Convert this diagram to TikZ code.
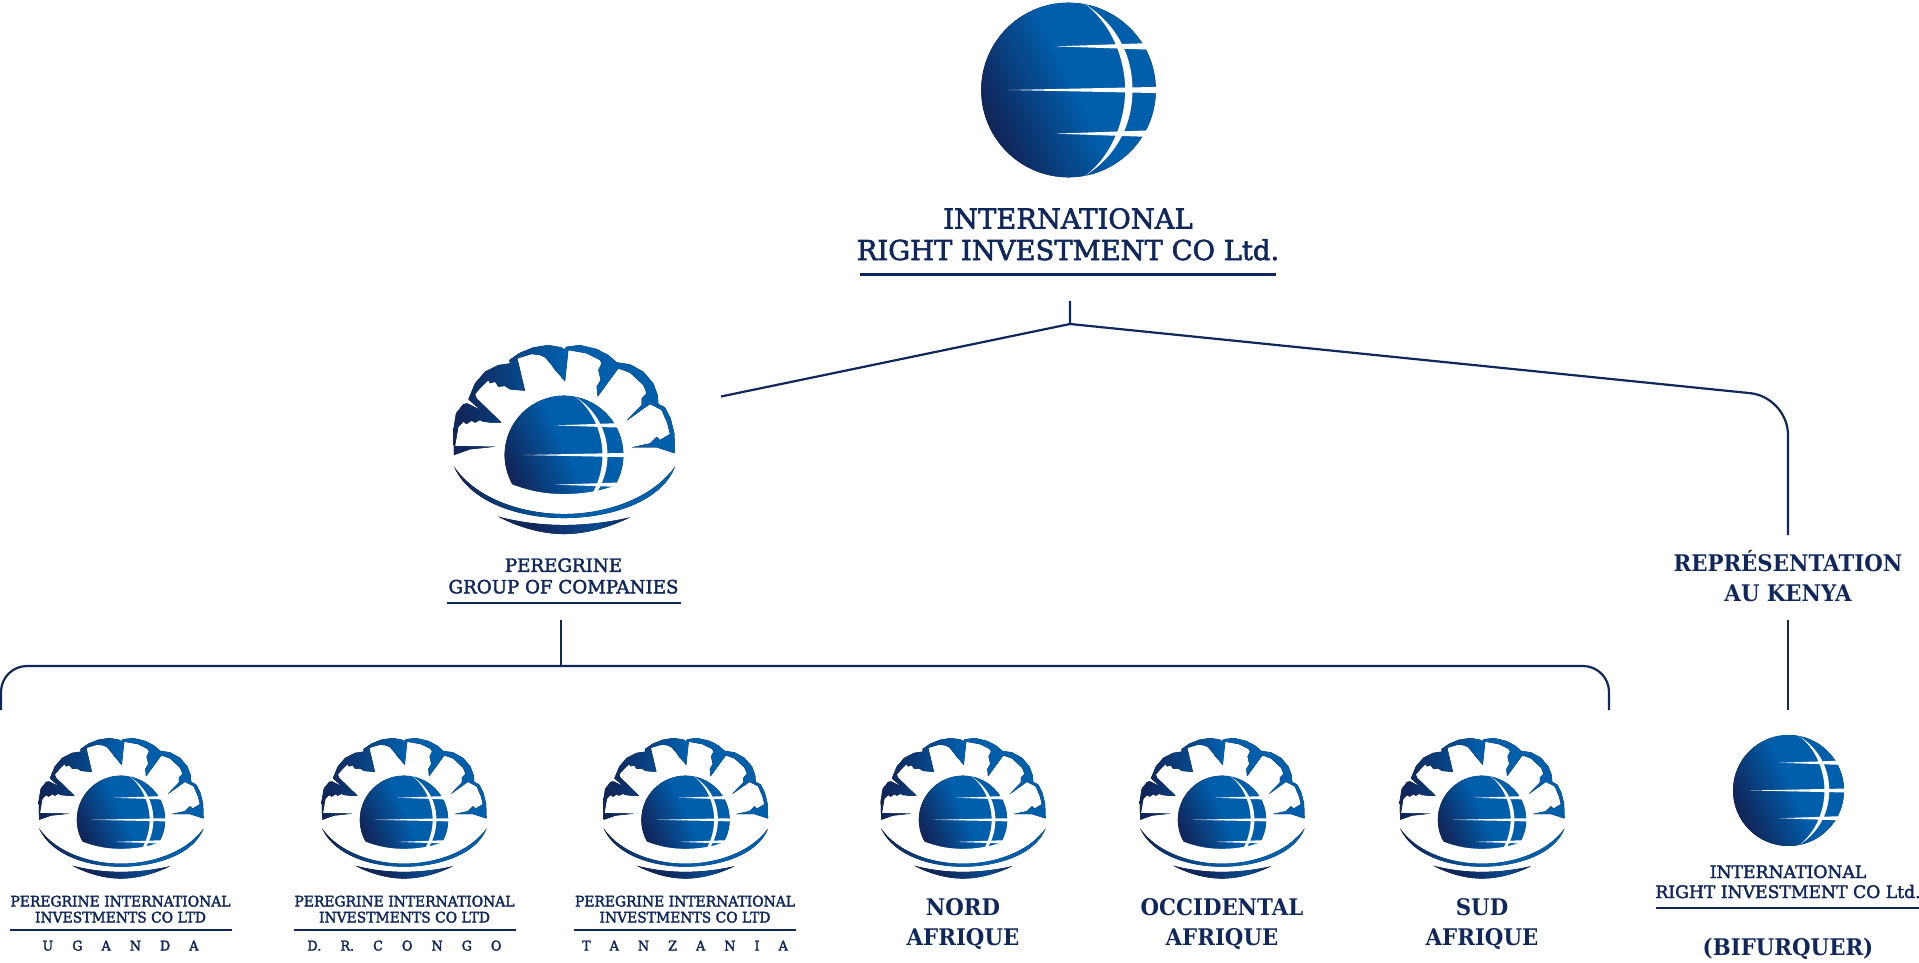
\documentclass[tikz,border=0pt]{standalone}
\usepackage{fontspec}
\setmainfont{DejaVu Serif}[UprightFeatures={FakeBold=2.2}, BoldFeatures={FakeStretch=0.93}]
\definecolor{marine}{HTML}{10275C}
\definecolor{bleuglobe}{HTML}{005EAB}
\definecolor{bleumoyen}{HTML}{0A4A8F}
\pgfdeclarehorizontalshading{globeshade}{100bp}{color(0bp)=(marine); color(27bp)=(marine); color(52bp)=(bleuglobe); color(100bp)=(bleuglobe)}
\pgfdeclarehorizontalshading{rimshade}{100bp}{color(0bp)=(marine); color(27bp)=(marine); color(50bp)=(bleuglobe); color(100bp)=(bleuglobe)}
\pgfdeclarehorizontalshading{basshade}{100bp}{color(0bp)=(marine); color(40bp)=(marine); color(62bp)=(bleumoyen); color(75bp)=(marine); color(100bp)=(marine)}
\newcommand{\paysfont}{\addfontfeature{FakeStretch=0.95}\fontsize{13.5}{13.5}\selectfont\spaceskip 19pt\relax}
\newcommand{\dessinglobe}{
    \fill[shading=globeshade, shading angle=25] (0,0) circle (1);
    % bande blanche
    \fill[white] (.088,-1.05) .. controls (.45,-.85) and (.649,-.4) .. (.649,0) .. controls (.649,.4) and (.45,.85) .. (.088,1.05) -- (.2,1.05) -- (.2,.977) .. controls (.55,.75) and (.733,.4) .. (.733,0) .. controls (.733,-.4) and (.55,-.75) .. (.2,-.977) -- (.2,-1.05) -- cycle;
    % traits effiles
    \fill[white] (-.687,0) -- (1.05,-.036) -- (1.05,.036) -- cycle;
    \fill[white] (-.15,-.5) -- (1,-.54) -- (1,-.46) -- cycle;
    \fill[white] (-.15,.5) -- (1,.46) -- (1,.54) -- cycle;
}
\tikzset{
  lien/.style={draw=marine, line width=2.2pt},
  filet/.style={draw=marine, line width=2.4pt},
  texte/.style={text=marine, align=center, inner sep=0pt, anchor=base},
  grand/.style={texte, font=\fontsize{27.4}{31.5}\selectfont},
  moyen/.style={texte, font=\fontsize{18.2}{21.5}\selectfont},
  petit/.style={texte, font=\addfontfeature{FakeStretch=0.95}\fontsize{14.6}{16}\selectfont},
  pays/.style={texte, font=\paysfont},
  gras/.style={texte, font=\fontsize{22.9}{30}\selectfont\bfseries},
  globe/.pic={\dessinglobe},
  logo/.pic={
    \begin{scope}[shift={(0,25)}, scale=178]
    \dessinglobe
    \end{scope}
    \fill[white] (-185,100) -- (-159,112) .. controls (-100,135) and (-50,142) .. (-2,142) .. controls (50,142) and (110,135) .. (165,112) -- (185,100) -- (185,210) -- (-185,210) -- cycle;
    % couronne
    \fill[shading=rimshade, rounded corners=.4pt] (-330,25) -- (-332,-50) -- (-324,-100) -- (-302,-128) -- (-290,-130) -- (-250,-110) -- (-287,-142) -- (-267,-190) -- (-237,-225) -- (-197,-245) -- (-162,-250) -- (-164,-260) -- (-132,-282) -- (-92,-298) -- (-47,-305) -- (-7,-298) -- (0,-292) -- (8,-300) -- (48,-305) -- (98,-293) -- (133,-275) -- (158,-253) -- (198,-247) -- (238,-225) -- (268,-190) -- (281,-155) -- (283,-128) -- (303,-118) -- (320,-85) -- (331,-40) -- (333,20)
      -- (278,2) -- (203,2) -- (258,-10) -- (278,-30) -- (288,-20) -- (318,-38) -- (310,-70) -- (293,-110) -- (258,-128) -- (188,-78) -- (208,-100) -- (233,-125) -- (233,-145) -- (248,-160) -- (238,-185) -- (198,-222) -- (163,-235) -- (101,-150) -- (98,-180) -- (110,-200) -- (103,-230) -- (113,-250) -- (108,-260) -- (68,-280) -- (13,-290) -- (3,-195) -- (-17,-220) -- (-27,-230) -- (-37,-245) -- (-57,-268) -- (-72,-275) -- (-97,-278) -- (-140,-265) -- (-117,-168) -- (-162,-172) -- (-177,-182) -- (-197,-180) -- (-207,-195) -- (-222,-190) -- (-227,-200) -- (-252,-175) -- (-267,-158) -- (-262,-145) -- (-187,-72) -- (-217,-72) -- (-242,-75) -- (-252,-80) -- (-267,-72) -- (-277,-78) -- (-292,-68) -- (-302,-75) -- (-317,-60) -- (-327,-2) -- (-207,0) -- (-282,8) -- cycle;
    % coupe
    \fill[shading=rimshade] (-330,60) .. controls (-260,160) and (-120,202) .. (0,202) .. controls (120,202) and (260,160) .. (333,60) .. controls (290,170) and (130,214) .. (0,214) .. controls (-130,214) and (-280,170) .. (-330,60) -- cycle;
    \fill[shading=basshade] (-197,210) .. controls (-120,230) and (-50,235) .. (0,235) .. controls (50,235) and (120,230) .. (198,212) .. controls (120,250) and (50,262) .. (0,262) .. controls (-50,262) and (-120,250) .. (-197,210) -- cycle;
  }
}
\begin{document}
\begin{tikzpicture}[x=1pt, y=-1pt]
\useasboundingbox (0,0) rectangle (1919,963);

% Societe mere
\pic[scale=87.3] at (1068.5,90) {globe};
\node[grand] (intl) at (1068,260) {INTERNATIONAL\\RIGHT INVESTMENT CO Ltd.};
\draw[filet] (860,274.3) -- (1276,274.3);

% Liens du haut
\coordinate (hautT) at (1070,301);
\coordinate (jonction) at (1070,324);
\coordinate (peregrineH) at (721,396.5);
\coordinate (coin) at (1788,397);
\coordinate (kenyaH) at (1788,535);
\draw[lien] (hautT) -- (jonction) -- (peregrineH);
\draw[lien, rounded corners=38pt] (jonction) -- (coin) -- (kenyaH);

% Peregrine
\pic[scale=1/3] at (564,446.7) {logo};
\node[moyen] (peregrine) at (563.5,593.3) {PEREGRINE\\GROUP OF COMPANIES};
\draw[filet] (447,603) -- (681,603);

% Representation
\node[gras] (kenya) at (1788,601.7) {REPRÉSENTATION\\AU KENYA};
\coordinate (kenyaB) at (1788,620);
\coordinate (bifurH) at (1788,710);
\draw[lien] (kenyaB) -- (bifurH);

% Crochet des filiales
\coordinate (crochetT) at (561,620);
\coordinate (crochetH) at (561,666);
\coordinate (crochetG) at (1,710);
\coordinate (crochetD) at (1609,710);
\draw[lien] (crochetT) -- (crochetH);
\draw[lien, rounded corners=26pt] (crochetG) |- (crochetH) -| (crochetD);

% Filiales
\foreach \cx in {121,404,685.5,963,1222,1482} {
    \pic[scale=0.248] at (\cx,813.6) {logo};
}
\foreach \cx/\nom/\terre in {120.5/uganda/U G A N D A,404.5/congo/D. R. C O N G O,685/tanzania/T A N Z A N I A} {
    \node[petit] (\nom) at (\cx,922.5) {PEREGRINE INTERNATIONAL\\INVESTMENTS CO LTD};
    \draw[filet] (\cx-111,930) -- (\cx+111,930);
    \node[pays] (\nom P) at (\cx,950.5) {\terre};
}
\foreach \cx/\nom/\region in {963/nord/NORD,1222/occidental/OCCIDENTAL,1482/sud/SUD} {
    \node[gras] (\nom) at (\cx,945) {\region\\AFRIQUE};
}

% Bifurquer
\pic[scale=55.5] at (1788.5,790.5) {globe};
\node[moyen, font=\fontsize{17.2}{20}\selectfont] (bifur) at (1788,898) {INTERNATIONAL\\RIGHT INVESTMENT CO Ltd.};
\draw[filet] (1656,908) -- (1919,908);
\node[gras] (bifurL) at (1788,955) {(BIFURQUER)};
\end{tikzpicture}
\end{document}
